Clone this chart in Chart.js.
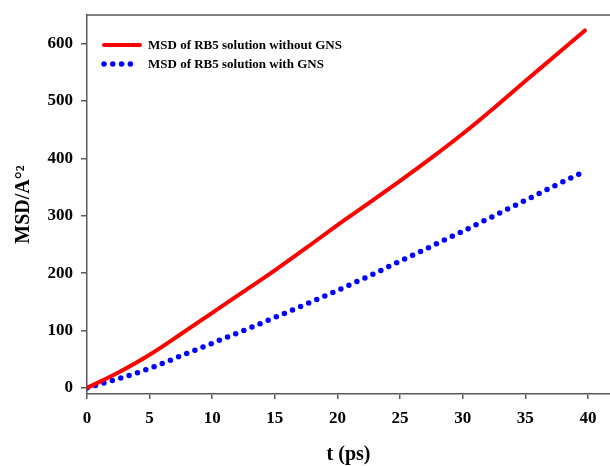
<!DOCTYPE html>
<html>
<head>
<meta charset="utf-8">
<script src="https://cdn.jsdelivr.net/npm/chart.js@4.4.1/dist/chart.umd.min.js"></script>
<style>
  html, body { margin: 0; padding: 0; background: #fff; }
  #wrap { width: 610px; height: 466px; position: relative; }
</style>
</head>
<body>
<div id="wrap"><canvas id="msdChart"></canvas></div>
<script>
// Values
const timeWithout = [0, 2.5, 5, 7.5, 10, 12.5, 15, 17.5, 20, 22.5, 25, 27.5, 30, 32.5, 35, 37.5, 39.76];
const msdWithout  = [0, 27, 58, 94, 131, 168, 205, 244, 284, 322, 361, 401, 443, 488, 535, 581, 623];

const timeWith = [0, 2.5, 5, 7.5, 10, 12.5, 15, 17.5, 20, 22.5, 25, 27.5, 30, 32.5, 35, 37.5, 39.6];
const msdWith  = [0, 16, 34, 56, 78, 100, 123, 146, 170, 195, 221, 247, 273, 300, 327, 354, 376];

const xTicks = [0, 5, 10, 15, 20, 25, 30, 35, 40];
const yTicks = [0, 100, 200, 300, 400, 500, 600];

const seriesLabels = ['MSD of RB5 solution without GNS', 'MSD of RB5 solution with GNS'];

const FONT = '"Liberation Serif", "Times New Roman", serif';
const AXIS_COLOR = '#5a5a5a';

function toPoints(xs, ys) {
    return xs.map((x, i) => ({ x: x, y: ys[i] }));
}

// Top frame line plus legend drawn inside the plot area
const frameAndLegend = {
    id: 'frameAndLegend',
    afterDraw(chart) {
        const ctx = chart.ctx;
        const area = chart.chartArea;
        ctx.save();
        ctx.strokeStyle = AXIS_COLOR;
        ctx.lineWidth = 1.5;
        ctx.beginPath();
        ctx.moveTo(area.left, area.top);
        ctx.lineTo(area.right, area.top);
        ctx.stroke();

        ctx.font = 'bold 13px ' + FONT;
        ctx.fillStyle = '#000';
        ctx.textBaseline = 'middle';
        const rows = [45, 64];
        chart.data.datasets.forEach((ds, i) => {
            const y = rows[i];
            ctx.strokeStyle = ds.borderColor;
            ctx.lineWidth = ds.borderWidth;
            ctx.lineCap = ds.borderCapStyle || 'butt';
            ctx.setLineDash(ds.borderDash || []);
            ctx.beginPath();
            ctx.moveTo(104, y);
            ctx.lineTo(ds.borderDash ? 134 : 140, y);
            ctx.stroke();
            ctx.setLineDash([]);
            ctx.fillText(ds.label, 148, y + 1);
        });
        ctx.restore();
    }
};

const chart = new Chart(document.getElementById('msdChart'), {
    type: 'line',
    data: {
        datasets: [
            {
                label: seriesLabels[0],
                data: toPoints(timeWithout, msdWithout),
                borderColor: '#ff0000',
                borderWidth: 4,
                borderCapStyle: 'round',
                pointRadius: 0,
                cubicInterpolationMode: 'monotone'
            },
            {
                label: seriesLabels[1],
                data: toPoints(timeWith, msdWith),
                borderColor: '#0000ff',
                borderWidth: 5.5,
                borderCapStyle: 'round',
                borderDash: [0, 8.8],
                pointRadius: 0,
                cubicInterpolationMode: 'monotone'
            }
        ]
    },
    options: {
        responsive: true,
        maintainAspectRatio: false,
        animation: false,
        layout: { padding: { top: 15, right: 0, left: 0, bottom: 0 } },
        plugins: {
            legend: { display: false },
            tooltip: { enabled: false }
        },
        scales: {
            x: {
                type: 'linear',
                min: 0,
                max: 41.76,
                afterBuildTicks: scale => { scale.ticks = xTicks.map(v => ({ value: v })); },
                afterFit: scale => { scale.height = 72; scale.paddingLeft = 0; scale.paddingRight = 0; },
                border: { color: AXIS_COLOR, width: 1.5 },
                grid: { drawOnChartArea: false, color: AXIS_COLOR, tickLength: 5, lineWidth: 1.5 },
                ticks: {
                    color: '#000',
                    padding: 9,
                    maxRotation: 0,
                    font: { family: FONT, size: 17, weight: 'bold' }
                },
                title: {
                    display: true,
                    text: 't (ps)',
                    color: '#000',
                    padding: { top: 4, bottom: -1 },
                    font: { family: FONT, size: 20, weight: 'bold' }
                }
            },
            y: {
                type: 'linear',
                min: -10.5,
                max: 650,
                afterBuildTicks: scale => { scale.ticks = yTicks.map(v => ({ value: v })); },
                afterFit: scale => { scale.width = 87; scale.paddingTop = 0; scale.paddingBottom = 0; },
                border: { color: AXIS_COLOR, width: 1.5 },
                grid: { drawOnChartArea: false, color: AXIS_COLOR, tickLength: 6, lineWidth: 1.5 },
                ticks: {
                    color: '#000',
                    padding: 8,
                    font: { family: FONT, size: 17, weight: 'bold' }
                },
                title: {
                    display: true,
                    text: 'MSD/A\u00B0\u00B2',
                    color: '#000',
                    padding: { top: 12, bottom: 0 },
                    font: { family: FONT, size: 20, weight: 'bold' }
                }
            }
        }
    },
    plugins: [frameAndLegend]
});
</script>
</body>
</html>
